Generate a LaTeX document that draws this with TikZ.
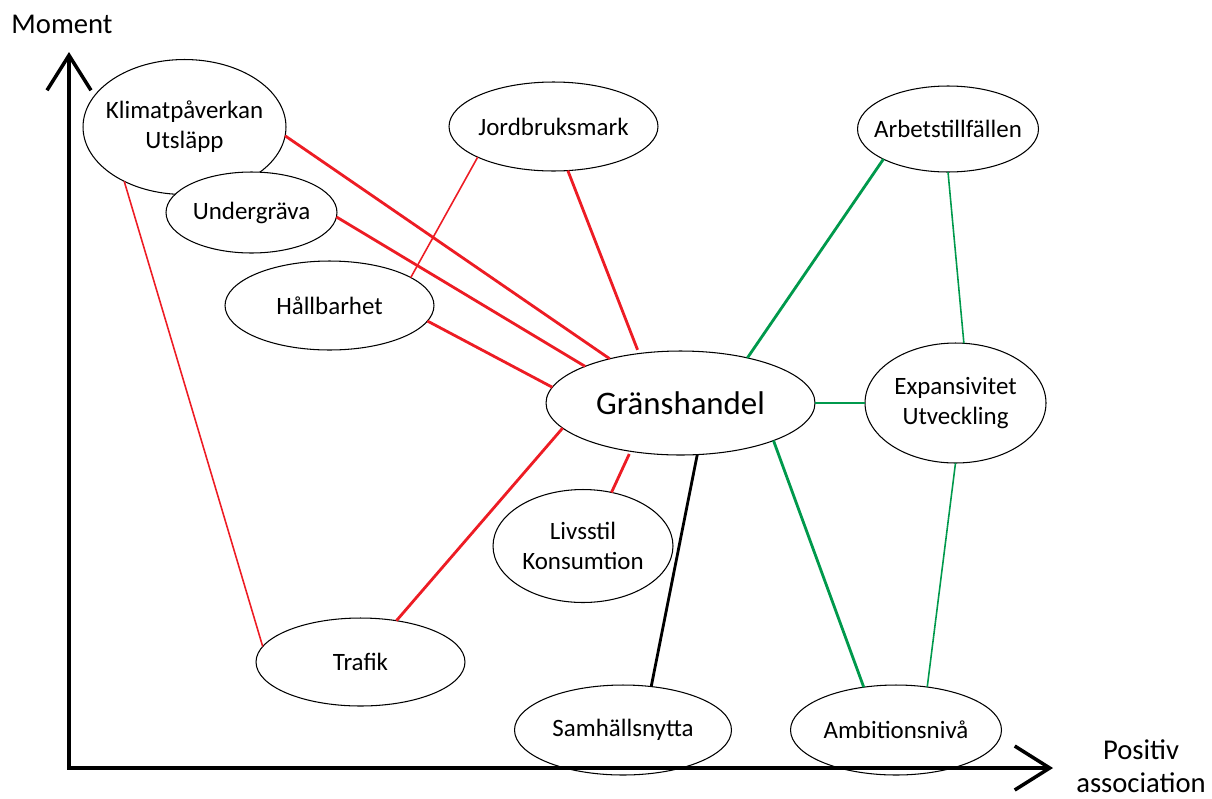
\documentclass[tikz,border=0pt]{standalone}
\usepackage{fontspec}
\setmainfont{Carlito}
\usetikzlibrary{shapes.geometric}
\usetikzlibrary{arrows.meta}

\definecolor{linkred}{RGB}{237,28,36}
\definecolor{linkgreen}{RGB}{0,153,76}

\begin{document}
\begin{tikzpicture}[x=0.02cm, y=-0.02cm]
                \tikzstyle{bubble} = [ellipse, draw, fill=white, line width=0.6pt, inner sep=0pt, outer sep=0pt]
                \tikzstyle{txt} = [align=center, font=\fontsize{14.2}{17}\selectfont]
                \tikzstyle{neglink} = [draw=linkred, line width=1.6pt]
                \tikzstyle{neglinkthin} = [draw=linkred, line width=0.9pt]
                \tikzstyle{poslink} = [draw=linkgreen, line width=1.6pt]
                \tikzstyle{poslinkthin} = [draw=linkgreen, line width=0.9pt]
                \tikzstyle{axis} = [line width=2pt, {Straight Barb[length=0.7cm, width=0.88cm]}-{Straight Barb[length=0.7cm, width=0.88cm]}]
                \useasboundingbox (0, 0) rectangle (1212, 798);
                % the ellipses
                \node[bubble, minimum width=4.06cm, minimum height=2.70cm, label={[txt]center:Klimatpåverkan\\Utsläpp}] (kl) at (184.5, 127) {};
                \node[bubble, minimum width=3.42cm, minimum height=1.62cm, label={[txt]center:Undergräva}] (ug) at (251.5, 212.5) {};
                \node[bubble, minimum width=4.18cm, minimum height=1.78cm, label={[txt]center:Jordbruksmark}] (jb) at (553.5, 126.5) {};
                \node[bubble, minimum width=3.62cm, minimum height=1.72cm, label={[txt]center:Arbetstillfällen}] (ab) at (948, 129) {};
                \node[bubble, minimum width=4.18cm, minimum height=1.78cm, label={[txt]center:Hållbarhet}] (hb) at (329.5, 305.5) {};
                \node[bubble, minimum width=5.38cm, minimum height=2.08cm, label={[txt, font=\fontsize{18.7}{22}\selectfont]center:Gränshandel}] (gh) at (680.5, 403) {};
                \node[bubble, minimum width=3.62cm, minimum height=2.40cm, label={[txt]center:Expansivitet\\Utveckling}] (ex) at (955.5, 403) {};
                \node[bubble, minimum width=3.60cm, minimum height=2.26cm, label={[txt]center:Livsstil\\Konsumtion}] (ls) at (583, 546) {};
                \node[bubble, minimum width=4.18cm, minimum height=1.76cm, label={[txt]center:Trafik}] (tr) at (360.5, 662) {};
                \node[bubble, minimum width=4.34cm, minimum height=1.80cm, label={[txt]center:Samhällsnytta}] (sn) at (623, 730) {};
                \node[bubble, minimum width=4.22cm, minimum height=1.80cm, label={[txt]center:Ambitionsnivå}] (am) at (896, 730) {};
                % red links
                \draw[neglink] (kl.-5) -- (gh.148);
                \draw[neglink] (ug.-3) -- (gh.159);
                \draw[neglink] (hb.-9.5) -- (gh.173);
                \draw[neglink, shorten >=0.08cm] (jb.-72.3) -- (gh.130);
                \draw[neglink] (gh.-168.7) -- (tr.49.6);
                \draw[neglink, shorten <=0.06cm] (gh.-136) -- (ls.62);
                \draw[neglinkthin] (jb.202) -- (hb.19.5);
                \draw[neglinkthin] (kl.-138.4) -- (tr.171.9);
                % black link
                \draw[line width=1.6pt] (gh.-72.9) -- (sn.57.3);
                % green links
                \draw[poslink] (gh.34) -- (ab.205.8);
                \draw[poslink] (gh.0) -- (ex.180);
                \draw[poslink] (gh.-22.3) -- (am.127.3);
                \draw[poslinkthin] (ab.-90) -- (ex.82.9);
                \draw[poslinkthin] (ex.-90) -- (am.54.5);
                % axes
                \coordinate (o) at (69, 768);
                \coordinate (ytip) at (69, 52);
                \coordinate (xtip) at (1053, 768);
                \draw[axis] (ytip) -- (o) -- (xtip);
                \node[font=\fontsize{16.3}{19}\selectfont] (ylab) at (62, 24) {Moment};
                \node[align=center, font=\fontsize{16.3}{19}\selectfont] (xlab) at (1141, 766) {Positiv\\association};
            \end{tikzpicture}
\end{document}
